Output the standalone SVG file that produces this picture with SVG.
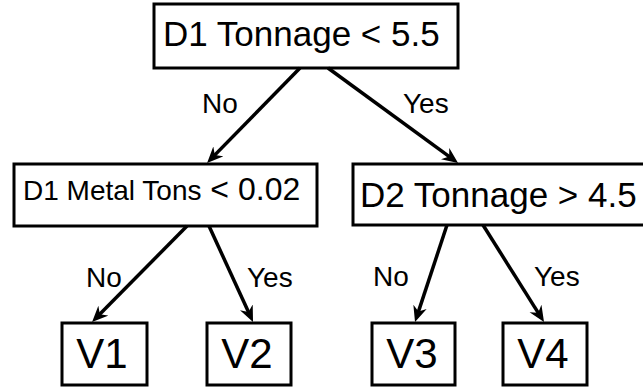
<svg xmlns="http://www.w3.org/2000/svg" width="643" height="387" viewBox="0 0 643 387">
<defs>
<style>
.box{fill:#fff;stroke:#000;stroke-width:3}
.t{font-family:"Liberation Sans",Arial,Helvetica,sans-serif;fill:#000}
.edge{stroke:#000;stroke-width:3.5;fill:none;marker-end:url(#ah)}
</style>
<marker id="ah" markerUnits="userSpaceOnUse" markerWidth="18" markerHeight="16" refX="9" refY="7" orient="auto">
<path d="M0,0 L16,7 L0,14 L5,7 Z" fill="#000"/>
</marker>
</defs>
<rect width="643" height="387" fill="#fff"/>
<g id="n-root">
<rect class="box" x="154" y="4" width="304" height="64"/>
<text class="t" x="163" y="46" font-size="35">D1 Tonnage &lt; 5.5</text>
</g>
<g id="n-metal">
<rect class="box" x="14" y="164" width="303" height="62"/>
<text class="t" x="23" y="200"><tspan font-size="28">D1 Metal Tons</tspan><tspan font-size="32"> &lt; 0.02</tspan></text>
</g>
<g id="n-d2">
<rect class="box" x="353" y="164" width="300" height="61"/>
<text class="t" x="360" y="207" font-size="35">D2 Tonnage &gt; 4.5</text>
</g>
<g id="n-v1">
<rect class="box" x="62" y="323" width="85" height="62"/>
<text class="t" x="102" y="368" font-size="42" text-anchor="middle">V1</text>
</g>
<g id="n-v2">
<rect class="box" x="207" y="323" width="84" height="62"/>
<text class="t" x="247" y="368" font-size="42" text-anchor="middle">V2</text>
</g>
<g id="n-v3">
<rect class="box" x="372" y="323" width="83" height="62"/>
<text class="t" x="412" y="368" font-size="42" text-anchor="middle">V3</text>
</g>
<g id="n-v4">
<rect class="box" x="503" y="323" width="84" height="62"/>
<text class="t" x="543" y="368" font-size="42" text-anchor="middle">V4</text>
</g>
<g id="connectors">
<path class="edge" d="M300,68 L212.0,157.9"/>
<path class="edge" d="M328,68 L452.4,158.9"/>
<path class="edge" d="M187,226 L97.0,317.0"/>
<path class="edge" d="M209,226 L250.1,315.6"/>
<path class="edge" d="M447,225 L417.2,315.4"/>
<path class="edge" d="M483,225 L540.3,316.1"/>
<text class="t" x="202" y="113" font-size="28">No</text>
<text class="t" x="403" y="113" font-size="28">Yes</text>
<text class="t" x="86" y="287" font-size="28">No</text>
<text class="t" x="247" y="287" font-size="28">Yes</text>
<text class="t" x="373" y="286" font-size="28">No</text>
<text class="t" x="534" y="286" font-size="28">Yes</text>
</g>
</svg>
